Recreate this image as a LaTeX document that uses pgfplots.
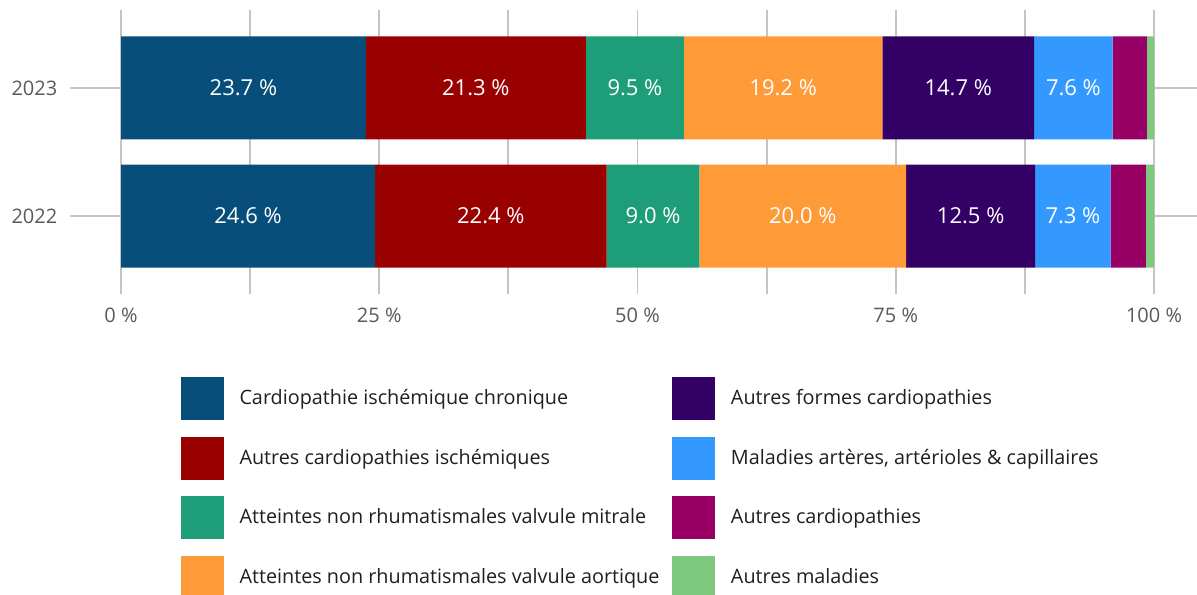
\documentclass[border=0pt]{standalone}
\usepackage{pgfplots}
\pgfplotsset{compat=1.18}
\usepackage{fontspec}
\setmainfont{Open Sans}
\definecolor{c1}{HTML}{074F7A}
\definecolor{c2}{HTML}{990000}
\definecolor{c3}{HTML}{1D9E78}
\definecolor{c4}{HTML}{FE9A37}
\definecolor{c5}{HTML}{330066}
\definecolor{c6}{HTML}{3399FF}
\definecolor{c7}{HTML}{990066}
\definecolor{c8}{HTML}{7FC97F}
\definecolor{gridc}{HTML}{C4C4C4}
\definecolor{tickc}{HTML}{595959}
\begin{document}
\fontsize{9.5pt}{11pt}\selectfont
\begin{tikzpicture}
\path[use as bounding box] (0,0) rectangle (598.5pt,297pt);
\begin{axis}[
  at={(60.5pt,150pt)}, anchor=south west,
  scale only axis, width=516.5pt, height=142pt,
  xbar stacked, bar width=51.5pt,
  xmin=0, xmax=100, ymin=-0.609, ymax=1.609,
  axis line style={draw=none},
  xtick={0,25,50,75,100},
  minor xtick={12.5,37.5,62.5,87.5},
  xticklabel={\pgfmathprintnumber[assume math mode=true]{\tick} \%},
  ytick={0,1}, yticklabels={2022,2023},
  tick align=outside,
  ytick pos=both, yticklabel pos=left,
  major tick length=25.5pt,
  xtick style={draw=none}, minor tick style={draw=none},
  ytick style={draw=gridc, line width=1.2pt},
  xmajorgrids, xminorgrids, ymajorgrids=false,
  major grid style={draw=gridc, line width=0.9pt},
  minor grid style={draw=gridc, line width=0.9pt},
  ticklabel style={text=tickc, font=\fontsize{10pt}{12pt}\selectfont},
  xticklabel style={yshift=22pt},
  yticklabel style={xshift=-3pt},
  legend columns=2,
  legend cell align=left,
  legend image code/.code={\fill[#1,draw=none] (0pt,-10.75pt) rectangle (21.5pt,10.75pt);},
  legend style={at={(0,0)}, anchor=north west, xshift=30pt, yshift=-41.5pt,
    draw=none, fill=none, inner sep=0pt, outer sep=0pt,
    row sep=8.25pt,
    nodes={inner sep=0pt, text=black!88, font=\fontsize{9.9pt}{12pt}\selectfont},
    /tikz/every odd column/.append style={column sep=7.75pt},
    /tikz/every even column/.append style={column sep=6.5pt}},
  lbl/.style={nodes near coords={\pgfmathprintnumber[assume math mode=true,fixed,fixed zerofill,precision=1]{\pgfplotspointmeta} \%},
    point meta=rawx,
    every node near coord/.style={anchor=center, text=white, font=\fontsize{11pt}{13pt}\selectfont}},
]
\addplot[fill=c1, draw=none, lbl, forget plot] coordinates {(24.6,0) (23.7,1)};
\addplot[fill=c2, draw=none, lbl, forget plot] coordinates {(22.4,0) (21.3,1)};
\addplot[fill=c3, draw=none, lbl, forget plot] coordinates {(9.0,0) (9.5,1)};
\addplot[fill=c4, draw=none, lbl, forget plot] coordinates {(20.0,0) (19.2,1)};
\addplot[fill=c5, draw=none, lbl, forget plot] coordinates {(12.5,0) (14.7,1)};
\addplot[fill=c6, draw=none, lbl, forget plot] coordinates {(7.3,0) (7.6,1)};
\addplot[fill=c7, draw=none, forget plot] coordinates {(3.4,0) (3.3,1)};
\addplot[fill=c8, draw=none, forget plot] coordinates {(0.8,0) (0.7,1)};
\addlegendimage{fill=c1}\addlegendentry{Cardiopathie ischémique chronique}
\addlegendimage{fill=c5}\addlegendentry{Autres formes cardiopathies}
\addlegendimage{fill=c2}\addlegendentry{Autres cardiopathies ischémiques}
\addlegendimage{fill=c6}\addlegendentry{Maladies artères, artérioles \& capillaires}
\addlegendimage{fill=c3}\addlegendentry{Atteintes non rhumatismales valvule mitrale}
\addlegendimage{fill=c7}\addlegendentry{Autres cardiopathies}
\addlegendimage{fill=c4}\addlegendentry{Atteintes non rhumatismales valvule aortique}
\addlegendimage{fill=c8}\addlegendentry{Autres maladies}
\end{axis}
\end{tikzpicture}
\end{document}
